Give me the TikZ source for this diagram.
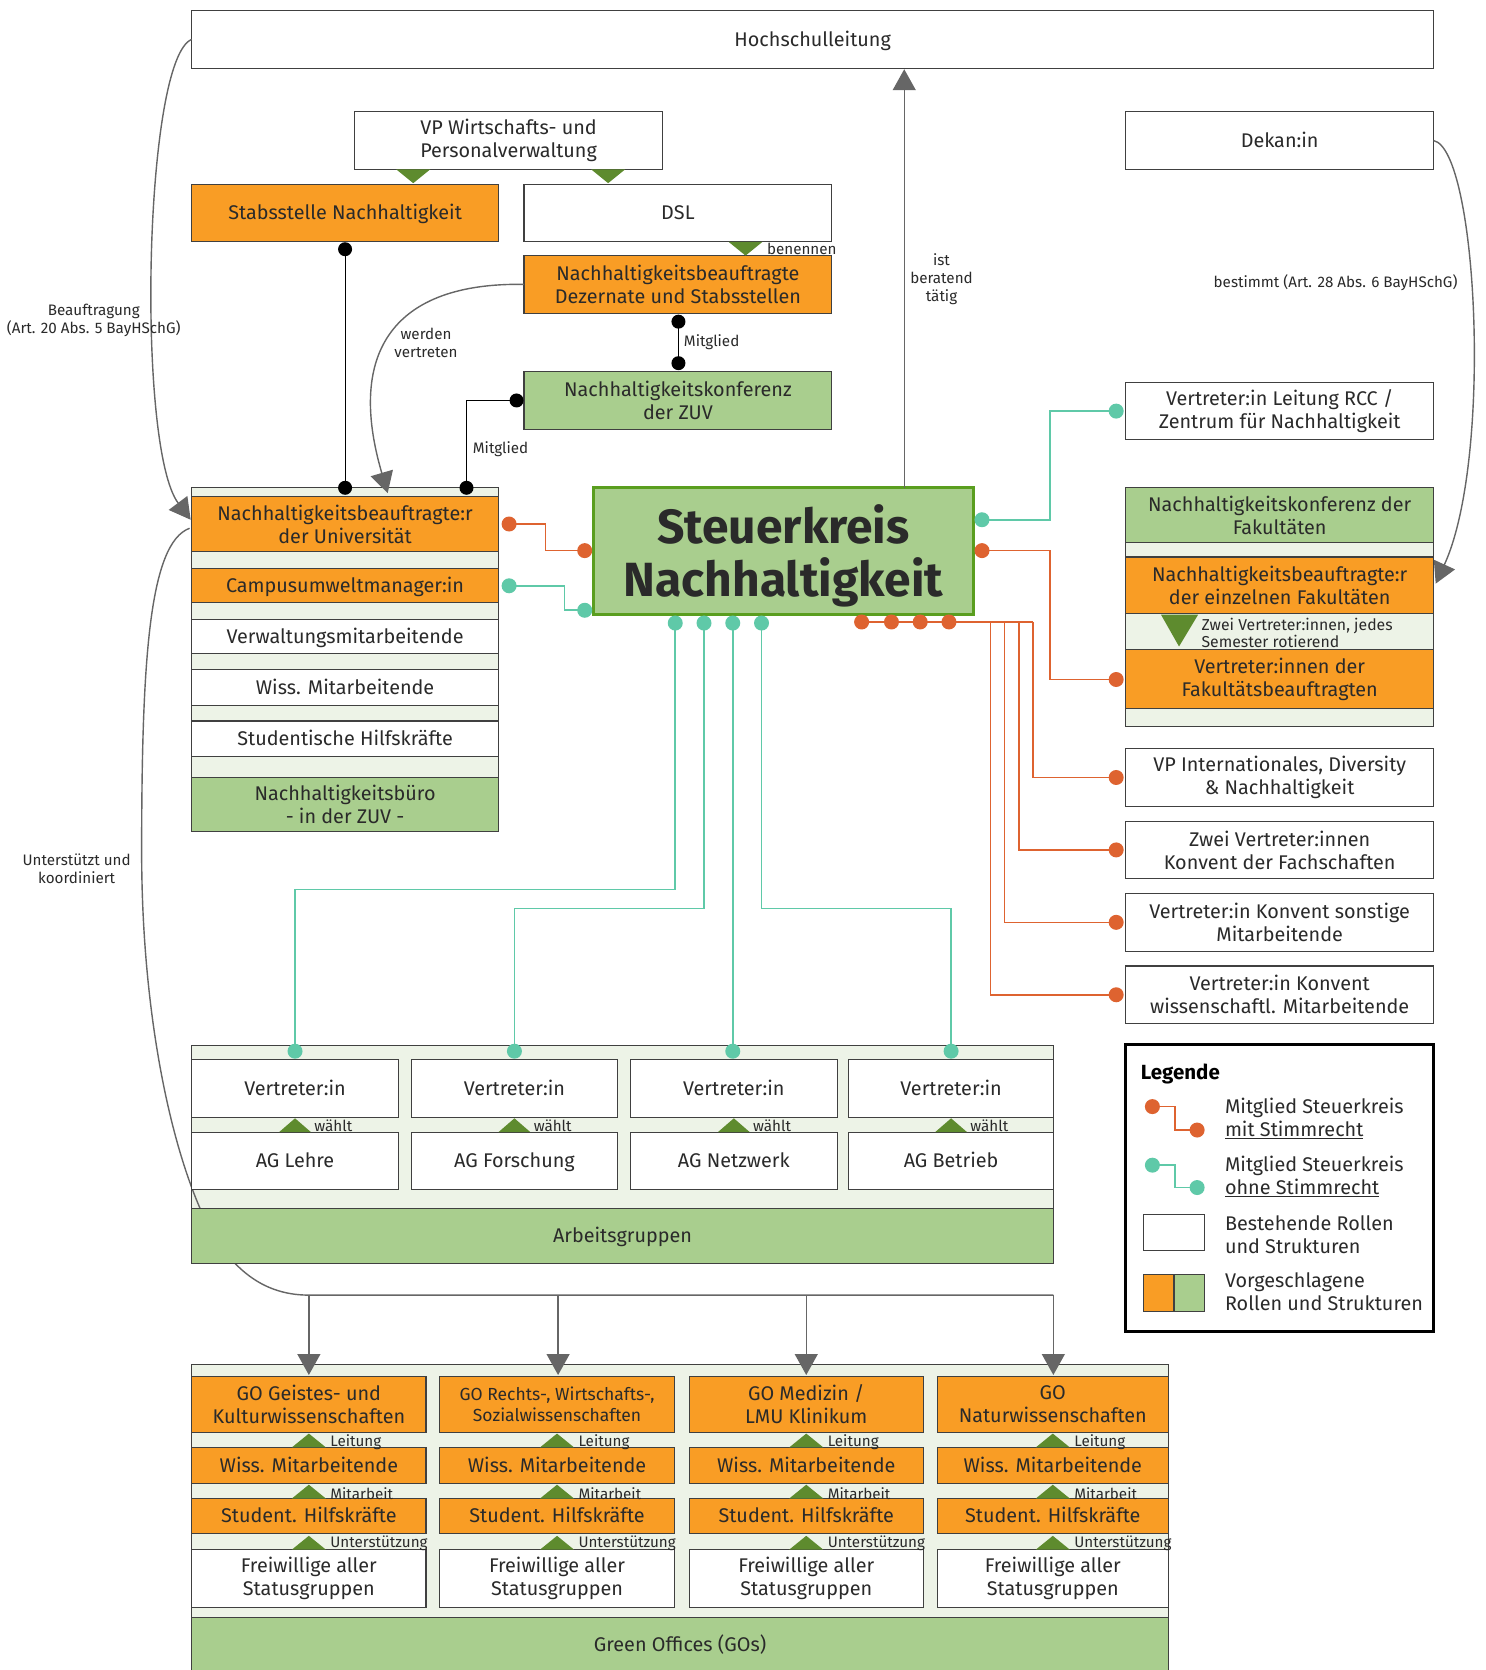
\documentclass[tikz,border=0pt]{standalone}
\usepackage{fontspec}
\setmainfont{Fira Sans}
\usetikzlibrary{arrows.meta}
\definecolor{orng}{HTML}{F99D25}
\definecolor{grn}{HTML}{A9CE8E}
\definecolor{stripc}{HTML}{EDF3E7}
\definecolor{trig}{HTML}{5E8B2E}
\definecolor{tealc}{HTML}{5FC9A8}
\definecolor{redc}{HTML}{DE6330}
\definecolor{bord}{HTML}{404040}
\definecolor{txt}{HTML}{2A2A2A}
\definecolor{arrg}{HTML}{666666}
\definecolor{skb}{HTML}{5A9E1F}
\newcommand\fmain{\fontsize{19.8}{23}\selectfont}
\newcommand\fsmall{\fontsize{15.2}{18}\selectfont}
\newcommand\fmid{\fontsize{17.5}{20.5}\selectfont}
\newcommand\fbig{\fontsize{48}{53}\selectfont\bfseries}
\begin{document}
\begin{tikzpicture}[x=1.0652pt,y=-1.0652pt,
  bx/.style n args={4}{minimum width={(#3-#1)*1.0652pt},minimum height={(#4-#2)*1.0652pt},at={({(#1+#3)/2},{(#2+#4)/2})}},
  box/.style={draw=bord,line width=1.1pt,inner sep=0pt,outer sep=0pt,align=center,text=txt,font=\fmain},
  sl/.style={text height=13.7pt,text depth=0pt},
  wbox/.style={box,fill=white},
  obox/.style={box,fill=orng},
  gbox/.style={box,fill=grn},
  sbox/.style={box,fill=stripc},
  lab/.style={text=txt,font=\fsmall,align=center,inner sep=0pt},
  gline/.style={draw=arrg,line width=1.4pt},
  garr/.style={gline,-{Triangle[length=21pt,width=23pt]}},
  rline/.style={draw=redc,line width=1.6pt},
  tline/.style={draw=tealc,line width=1.6pt},
  bline/.style={draw=black,line width=1.1pt},
  rdot/.style={circle,fill=redc,inner sep=0pt,minimum size=15pt},
  tdot/.style={circle,fill=tealc,inner sep=0pt,minimum size=15pt},
  bdot/.style={circle,fill=black,inner sep=0pt,minimum size=14pt},
  trg/.style={fill=trig}
]
\useasboundingbox (0,0) rectangle (1395,1568);
\fill[white] (0,0) rectangle (1395,1568);

% ---------- top ----------
\node[wbox,sl,bx={180}{10}{1346}{64}] (hl) {Hochschulleitung};
\node[wbox,bx={333}{105}{622}{159}] (vp) {VP Wirtschafts- und\\Personalverwaltung};
\node[obox,sl,bx={180}{173}{468}{227}] (sn) {Stabsstelle Nachhaltigkeit};
\node[wbox,sl,bx={492}{173}{781}{227}] (dsl) {DSL};
\node[obox,bx={492}{240}{781}{294}] (dez) {Nachhaltigkeitsbeauftragte\\Dezernate und Stabsstellen};
\node[gbox,bx={492}{349}{781}{403}] (zuv) {Nachhaltigkeitskonferenz\\der ZUV};
\fill[trg] (372,159) -- (404,159) -- (388,172) -- cycle;
\fill[trg] (555,159) -- (587,159) -- (571,172) -- cycle;
\fill[trg] (684,227) -- (716,227) -- (700,240) -- cycle;
\node[lab,anchor=west] (lbn) at (720,234) {benennen};

% ---------- left group ----------
\node[sbox,bx={180}{458}{468}{781}] (lg) {};
\node[obox,bx={180}{466}{468}{518}] (nbu) {Nachhaltigkeitsbeauftragte:r\\der Universität};
\node[obox,sl,bx={180}{534}{468}{566}] (cum) {Campusumweltmanager:in};
\node[wbox,sl,bx={180}{582}{468}{614}] (vm) {Verwaltungsmitarbeitende};
\node[wbox,sl,bx={180}{629}{468}{662}] (wm) {Wiss. Mitarbeitende};
\node[wbox,sl,bx={180}{677}{468}{710}] (sh) {Studentische Hilfskräfte};
\node[gbox,bx={180}{730}{468}{781}] (nb) {Nachhaltigkeitsbüro\\- in der ZUV -};

% black member connectors
\coordinate (m1) at (637,302); \coordinate (m2) at (637,341);
\coordinate (m3) at (485,376); \coordinate (m4) at (438,458);
\coordinate (m5) at (324,234); \coordinate (m6) at (324,458);
\draw[bline] (m1) -- (m2);
\draw[bline] (m3) -| (m4);
\draw[bline] (m5) -- (m6);
\foreach \c in {m1,m2,m3,m4,m5,m6} \node[bdot] at (\c) {};
\node[lab,anchor=west] (lmg1) at (642,321) {Mitglied};
\node[lab] (lmg2) at (470,422) {Mitglied};

% ---------- Steuerkreis ----------
\node[box,fill=grn,draw=skb,line width=3pt,bx={557}{458}{914}{577}] (sk) {};
\node[align=center,text=txt,font=\fbig,inner sep=0pt] (sktx) at (735.5,521.5) {Steuerkreis\\Nachhaltigkeit};

% ---------- right side ----------
\node[wbox,sl,bx={1057}{105}{1346}{159}] (dek) {Dekan:in};
\node[wbox,bx={1057}{359}{1346}{413}] (rcc) {Vertreter:in Leitung RCC /\\Zentrum für Nachhaltigkeit};
\node[sbox,bx={1057}{458}{1346}{682}] (rg) {};
\node[gbox,bx={1057}{458}{1346}{509}] (nkf) {Nachhaltigkeitskonferenz der\\Fakultäten};
\node[obox,bx={1057}{523}{1346}{576}] (nbf) {Nachhaltigkeitsbeauftragte:r\\der einzelnen Fakultäten};
\node[obox,bx={1057}{610}{1346}{665}] (vfb) {Vertreter:innen der\\Fakultätsbeauftragten};
\fill[trg] (1090,577) -- (1125,577) -- (1107,607) -- cycle;
\node[lab,anchor=west,align=left,font=\fontsize{15.8}{17}\selectfont] (lzw) at (1128,594) {Zwei Vertreter:innen, jedes\\Semester rotierend};
\node[wbox,bx={1057}{703}{1346}{757}] (vpi) {VP Internationales, Diversity\\\& Nachhaltigkeit};
\node[wbox,bx={1057}{771}{1346}{825}] (kf) {Zwei Vertreter:innen\\Konvent der Fachschaften};
\node[wbox,bx={1057}{839}{1346}{893}] (ks) {Vertreter:in Konvent sonstige\\Mitarbeitende};
\node[wbox,bx={1057}{907}{1346}{961}] (kw) {Vertreter:in Konvent\\wissenschaftl. Mitarbeitende};

% ---------- legend ----------
\node[draw=black,line width=3.2pt,fill=white,inner sep=0pt,bx={1057}{981}{1346}{1250}] (leg) {};
\node[anchor=west,font=\fontsize{20.5}{23}\selectfont\bfseries,text=black,inner sep=0pt] (legt) at (1071,1008) {Legende};
\coordinate (lr1) at (1082,1039); \coordinate (lr2) at (1124,1061);
\coordinate (lt1) at (1082,1094); \coordinate (lt2) at (1124,1115);
\draw[rline] (lr1) -- (1103,1039) |- (lr2);
\draw[tline] (lt1) -- (1103,1094) |- (lt2);
\node[rdot] at (lr1) {}; \node[rdot] at (lr2) {};
\node[tdot] at (lt1) {}; \node[tdot] at (lt2) {};
\node[anchor=west,align=left,font=\fmain,text=txt,inner sep=0pt] (ltx1) at (1150,1050) {Mitglied Steuerkreis\\\underline{mit Stimmrecht}};
\node[anchor=west,align=left,font=\fmain,text=txt,inner sep=0pt] (ltx2) at (1150,1105) {Mitglied Steuerkreis\\\underline{ohne Stimmrecht}};
\node[wbox,bx={1074}{1140}{1131}{1174}] (lw) {};
\node[anchor=west,align=left,font=\fmain,text=txt,inner sep=0pt] (ltx3) at (1150,1159) {Bestehende Rollen\\und Strukturen};
\node[obox,bx={1074}{1197}{1102}{1231}] (lo) {};
\node[gbox,bx={1103}{1197}{1131}{1231}] (lgr) {};
\node[anchor=west,align=left,font=\fmain,text=txt,inner sep=0pt] (ltx4) at (1150,1213) {Vorgeschlagene\\Rollen und Strukturen};

% ---------- AG group ----------
\node[sbox,bx={180}{982}{989}{1186}] (agg) {};
% curve "unterstützt und koordiniert"
\coordinate (us) at (178,496);
\coordinate (uj) at (290,1216);
\coordinate (uk) at (989,1216);
\draw[gline] (us) .. controls (140,510) and (133,620) .. (133,800)
   .. controls (133,950) and (160,1080) .. (195,1150)
   .. controls (222,1200) and (255,1216) .. (uj) -- (uk);
\node[lab] (luk) at (72,816) {Unterstützt und\\koordiniert};

\node[wbox,sl,bx={180}{995}{374}{1049}] (v1) {Vertreter:in};
\node[wbox,sl,bx={386}{995}{580}{1049}] (v2) {Vertreter:in};
\node[wbox,sl,bx={592}{995}{786}{1049}] (v3) {Vertreter:in};
\node[wbox,sl,bx={797}{995}{989}{1049}] (v4) {Vertreter:in};
\node[wbox,sl,bx={180}{1063}{374}{1117}] (ag1) {AG Lehre};
\node[wbox,sl,bx={386}{1063}{580}{1117}] (ag2) {AG Forschung};
\node[wbox,sl,bx={592}{1063}{786}{1117}] (ag3) {AG Netzwerk};
\node[wbox,sl,bx={797}{1063}{989}{1117}] (ag4) {AG Betrieb};
\foreach \cx/\n in {277/1,483/2,689/3,893/4}{
  \fill[trg] (\cx-15,1063) -- (\cx+15,1063) -- (\cx,1050) -- cycle;
  \node[lab,anchor=west] (lw\n) at (\cx+18,1057) {wählt};
}
\node[gbox,sl,bx={180}{1135}{989}{1186}] (agb) {Arbeitsgruppen};

% ---------- Green Offices ----------
\node[sbox,bx={180}{1281}{1097}{1570}] (goc) {};
\node[obox,bx={180}{1292}{400}{1345}] (go1) {GO Geistes- und\\Kulturwissenschaften};
\node[obox,bx={413}{1292}{633}{1345},font=\fmid] (go2) {GO Rechts-, Wirtschafts-,\\Sozialwissenschaften};
\node[obox,bx={647}{1292}{867}{1345}] (go3) {GO Medizin /\\LMU Klinikum};
\node[obox,bx={880}{1292}{1097}{1345}] (go4) {GO\\Naturwissenschaften};
\foreach \xa/\xb/\n in {180/400/1,413/633/2,647/867/3,880/1097/4}{
  \node[obox,sl,bx={\xa}{1359}{\xb}{1393}] (wi\n) {Wiss. Mitarbeitende};
  \node[obox,sl,bx={\xa}{1407}{\xb}{1440}] (st\n) {Student. Hilfskräfte};
  \node[wbox,bx={\xa}{1455}{\xb}{1509}] (fw\n) {Freiwillige aller\\Statusgruppen};
  \pgfmathsetmacro\cx{(\xa+\xb)/2}
  \fill[trg] (\cx-16,1359) -- (\cx+16,1359) -- (\cx,1346) -- cycle;
  \fill[trg] (\cx-16,1407) -- (\cx+16,1407) -- (\cx,1394) -- cycle;
  \fill[trg] (\cx-16,1455) -- (\cx+16,1455) -- (\cx,1442) -- cycle;
  \node[lab,anchor=west] (ll\n) at (\cx+20,1354) {Leitung};
  \node[lab,anchor=west] (lm\n) at (\cx+20,1402) {Mitarbeit};
  \node[lab,anchor=west] (lu\n) at (\cx+20,1449) {Unterstützung};
}
\node[gbox,sl,bx={180}{1519}{1097}{1570}] (gob) {Green Offices (GOs)};

% GO arrows
\coordinate (ga2) at (524,1216); \coordinate (ga3) at (757,1216);
\coordinate (gt1) at (290,1291); \coordinate (gt2) at (524,1291);
\coordinate (gt3) at (757,1291); \coordinate (gt4) at (989,1291);
\draw[garr] (uj) -- (gt1);
\draw[garr] (ga2) -- (gt2);
\draw[garr] (ga3) -- (gt3);
\draw[garr] (uk) -- (gt4);

% ---------- grey arrows ----------
\coordinate (skt) at (849,458); \coordinate (hlb) at (849,65);
\draw[garr] (skt) -- (hlb);
\node[lab] (lib) at (884,262) {ist\\beratend\\tätig};

\coordinate (hlw) at (180,37); \coordinate (nbw) at (179,488);
\draw[garr] (hlw) .. controls (135,55) and (128,420) .. (nbw);
\node[lab] (lbf) at (88,301) {Beauftragung\\(Art. 20 Abs. 5 BayHSchG)};

\coordinate (dke) at (1346,132); \coordinate (nbfe) at (1348,548);
\draw[garr] (dke) .. controls (1387,140) and (1402,430) .. (nbfe);
\node[lab] (lbs) at (1254,265) {bestimmt (Art. 28 Abs. 6 BayHSchG)};

\coordinate (dzw) at (492,267); \coordinate (nbut) at (364,463);
\draw[garr] (dzw) .. controls (370,265) and (325,330) .. (nbut);
\node[lab] (lwv) at (400,322) {werden\\vertreten};

% ---------- coloured connectors ----------
\coordinate (cu1) at (478,492); \coordinate (cs1) at (549,517);
\coordinate (cu2) at (478,550); \coordinate (cs2) at (549,573);
\coordinate (rs) at (922,517); \coordinate (ts) at (922,488);
\coordinate (e5) at (1048,638); \coordinate (e6) at (1048,386);
\draw[rline] (cu1) -- (512,492) |- (cs1);
\draw[tline] (cu2) -- (530,550) |- (cs2);
\draw[tline] (ts) -- (986,488) |- (e6);
\draw[rline] (rs) -- (986,517) |- (e5);

\coordinate (t1) at (634,585); \coordinate (t2) at (661,585);
\coordinate (t3) at (688,585); \coordinate (t4) at (715,585);
\coordinate (a1) at (277,987); \coordinate (a2) at (483,987);
\coordinate (a3) at (688,987); \coordinate (a4) at (893,987);
\draw[tline] (t1) -- (634,835) -| (a1);
\draw[tline] (t2) -- (661,853) -| (a2);
\draw[tline] (t3) -- (a3);
\draw[tline] (t4) -- (715,853) -| (a4);

\coordinate (r1) at (809,584); \coordinate (r2) at (837,584);
\coordinate (r3) at (864,584); \coordinate (r4) at (891,584);
\coordinate (rj1) at (970,584); \coordinate (rj2) at (957,584);
\coordinate (rj3) at (943,584); \coordinate (rj4) at (930,584);
\coordinate (e1) at (1048,730); \coordinate (e2) at (1048,798);
\coordinate (e3) at (1048,866); \coordinate (e4) at (1048,934);
\draw[rline] (r1) -- (rj1);
\draw[rline] (rj1) |- (e1);
\draw[rline] (rj2) |- (e2);
\draw[rline] (rj3) |- (e3);
\draw[rline] (rj4) |- (e4);

\foreach \c in {cu1,cs1,rs,e5,r1,r2,r3,r4,e1,e2,e3,e4} \node[rdot] at (\c) {};
\foreach \c in {cu2,cs2,ts,e6,t1,t2,t3,t4,a1,a2,a3,a4} \node[tdot] at (\c) {};
\end{tikzpicture}
\end{document}
